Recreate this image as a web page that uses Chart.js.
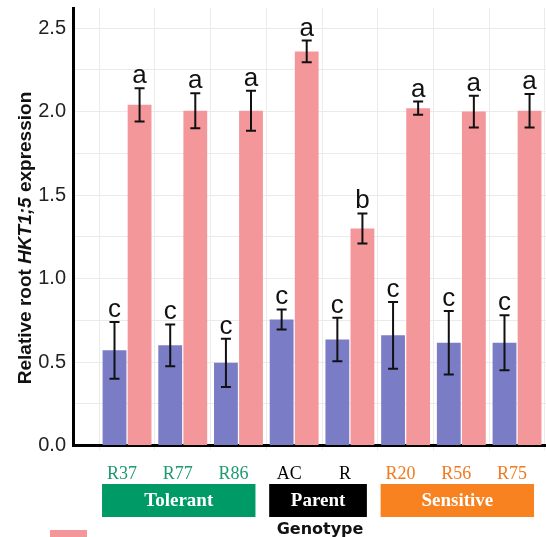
<!DOCTYPE html>
<html>
<head>
<meta charset="utf-8">
<script src="https://cdn.jsdelivr.net/npm/chart.js@4/dist/chart.umd.min.js"></script>
<style>
  html, body { margin: 0; padding: 0; background: #fff; overflow: hidden; }
  #wrap { width: 546px; height: 537px; position: relative; }
</style>
</head>
<body>
<div id="wrap"><canvas id="c" width="546" height="537"></canvas></div>
<script>
// Genotypes along the x axis
const genotypes = ['R37', 'R77', 'R86', 'AC', 'R', 'R20', 'R56', 'R75'];

// Relative root HKT1;5 expression, control plants (mean and error)
const controlMean = [0.57, 0.60, 0.495, 0.755, 0.635, 0.66, 0.615, 0.615];
const controlErr  = [0.17, 0.125, 0.145, 0.06, 0.13, 0.20, 0.19, 0.165];
const controlLetters = ['c', 'c', 'c', 'c', 'c', 'c', 'c', 'c'];

// Relative root HKT1;5 expression, salt-treated plants (mean and error)
const saltMean = [2.04, 2.005, 2.005, 2.36, 1.30, 2.02, 2.00, 2.005];
const saltErr  = [0.10, 0.105, 0.12, 0.065, 0.09, 0.04, 0.095, 0.10];
const saltLetters = ['a', 'a', 'a', 'a', 'b', 'a', 'a', 'a'];

// y axis: grid every 0.25, labels every 0.5
const yGrid = [0, 0.25, 0.5, 0.75, 1.0, 1.25, 1.5, 1.75, 2.0, 2.25, 2.5];
const yTickLabels = ['0.0', '0.5', '1.0', '1.5', '2.0', '2.5'];

// Genotype groups shown as coloured boxes under the axis
const groupNames  = ['Tolerant', 'Parent', 'Sensitive'];
const groupFirst  = [0, 3, 5];
const groupLast   = [2, 4, 7];
const groupColors = ['#009a66', '#000000', '#f7821f'];
const groupText   = ['#1d9a70', '#000000', '#f07a20'];

const CONTROL_COLOR = '#7a7cc6';
const SALT_COLOR = '#f4979b';

function groupOf(i) {
  for (let g = 0; g < groupNames.length; g++) {
    if (i >= groupFirst[g] && i <= groupLast[g]) return g;
  }
  return 0;
}

const toPoints = arr => arr.map((v, i) => ({ x: i, y: v }));

// Error bars and significance letters on top of each bar
const errorBarPlugin = {
  id: 'errorBars',
  afterDatasetsDraw(chart) {
    const ctx = chart.ctx;
    const y = chart.scales.y;
    const sets = [
      { mean: controlMean, err: controlErr, letters: controlLetters },
      { mean: saltMean, err: saltErr, letters: saltLetters }
    ];
    ctx.save();
    sets.forEach((s, d) => {
      const meta = chart.getDatasetMeta(d);
      meta.data.forEach((bar, i) => {
        const top = y.getPixelForValue(s.mean[i] + s.err[i]);
        const bot = y.getPixelForValue(s.mean[i] - s.err[i]);
        const x = bar.x;
        ctx.strokeStyle = '#111';
        ctx.lineWidth = 2;
        ctx.beginPath();
        ctx.moveTo(x, top); ctx.lineTo(x, bot);
        ctx.moveTo(x - 5, top); ctx.lineTo(x + 5, top);
        ctx.moveTo(x - 5, bot); ctx.lineTo(x + 5, bot);
        ctx.stroke();
        ctx.fillStyle = '#111';
        ctx.font = '26px "Liberation Sans", Arial, sans-serif';
        ctx.textAlign = 'center';
        ctx.textBaseline = 'alphabetic';
        ctx.fillText(s.letters[i], x, top - 5);
      });
    });
    ctx.restore();
  }
};

// Axis title, group boxes and legend swatch
const decorPlugin = {
  id: 'decor',
  afterDraw(chart) {
    const ctx = chart.ctx;
    const xs = chart.scales.x;
    const area = chart.chartArea;
    ctx.save();

    // group boxes
    const boxTop = area.bottom + 38.5;
    const boxH = 33;
    groupNames.forEach((name, g) => {
      const left = xs.getPixelForValue(groupFirst[g]) - 25;
      const right = xs.getPixelForValue(groupLast[g]) + 17;
      ctx.fillStyle = groupColors[g];
      ctx.fillRect(left, boxTop, right - left, boxH);
      ctx.fillStyle = '#fff';
      ctx.font = 'bold 19px "Liberation Serif", "Times New Roman", serif';
      ctx.textAlign = 'center';
      ctx.textBaseline = 'middle';
      ctx.fillText(name, (left + right) / 2, boxTop + boxH / 2 + 1);
    });

    // x axis title
    const midX = (xs.getPixelForValue(0) + xs.getPixelForValue(genotypes.length - 1)) / 2 - 2;
    ctx.fillStyle = '#111';
    ctx.font = 'bold 16px "DejaVu Sans", sans-serif';
    ctx.textAlign = 'center';
    ctx.textBaseline = 'alphabetic';
    ctx.fillText('Genotype', midX, 533.5);

    // y axis title with italic gene name
    const parts = [
      { t: 'Relative root ', f: 'bold 19px "Liberation Sans", Arial, sans-serif' },
      { t: 'HKT1;5', f: 'italic bold 19px "Liberation Sans", Arial, sans-serif' },
      { t: ' expression', f: 'bold 19px "Liberation Sans", Arial, sans-serif' }
    ];
    let total = 0;
    parts.forEach(p => { ctx.font = p.f; p.w = ctx.measureText(p.t).width; total += p.w; });
    ctx.translate(26, 238);
    ctx.rotate(-Math.PI / 2);
    ctx.textAlign = 'left';
    ctx.textBaseline = 'middle';
    let cx = -total / 2;
    parts.forEach(p => { ctx.font = p.f; ctx.fillText(p.t, cx, 0); cx += p.w; });
    ctx.setTransform(1, 0, 0, 1, 0, 0);

    // legend swatch (salt)
    ctx.fillStyle = SALT_COLOR;
    ctx.fillRect(50, 530, 37, 10);
    ctx.restore();
  }
};

new Chart(document.getElementById('c'), {
  type: 'bar',
  data: {
    datasets: [
      { label: 'Control', data: toPoints(controlMean), backgroundColor: CONTROL_COLOR, borderWidth: 0 },
      { label: 'NaCl', data: toPoints(saltMean), backgroundColor: SALT_COLOR, borderWidth: 0 }
    ]
  },
  options: {
    responsive: false,
    animation: false,
    devicePixelRatio: 1,
    layout: { padding: { top: 8, right: 0, left: 0, bottom: 0 } },
    plugins: { legend: { display: false }, tooltip: { enabled: false } },
    datasets: { bar: { categoryPercentage: 0.9, barPercentage: 0.95 } },
    scales: {
      x: {
        type: 'linear',
        min: -0.97,
        max: 7.52,
        offset: false,
        afterBuildTicks(s) { s.ticks = genotypes.map((_, i) => ({ value: i })); },
        afterFit(s) { s.height = 91.5; s.paddingLeft = 0; s.paddingRight = 0; },
        grid: { color: '#ebebeb', lineWidth: 1, tickLength: 5, drawTicks: true },
        border: { display: true, color: '#000', width: 3 },
        ticks: {
          autoSkip: false,
          maxRotation: 0,
          padding: 13,
          labelOffset: -5,
          callback: v => genotypes[v],
          color: c => groupText[groupOf(c.index)],
          font: { family: '"Liberation Serif", "Times New Roman", serif', size: 18 }
        }
      },
      y: {
        min: 0,
        max: 2.62,
        afterBuildTicks(s) { s.ticks = yGrid.map(v => ({ value: v })); },
        afterFit(s) { s.width = 73; s.paddingTop = 0; s.paddingBottom = 0; },
        grid: { color: '#ebebeb', lineWidth: 1, drawTicks: false },
        border: { display: true, color: '#000', width: 3 },
        ticks: {
          padding: 7,
          callback: v => {
            const lbl = v.toFixed(1);
            return yTickLabels.includes(lbl) && Math.abs(v * 2 - Math.round(v * 2)) < 1e-6 ? lbl : '';
          },
          color: '#222',
          font: { family: '"Liberation Sans", Arial, sans-serif', size: 20 }
        }
      }
    }
  },
  plugins: [errorBarPlugin, decorPlugin]
});
</script>
</body>
</html>
